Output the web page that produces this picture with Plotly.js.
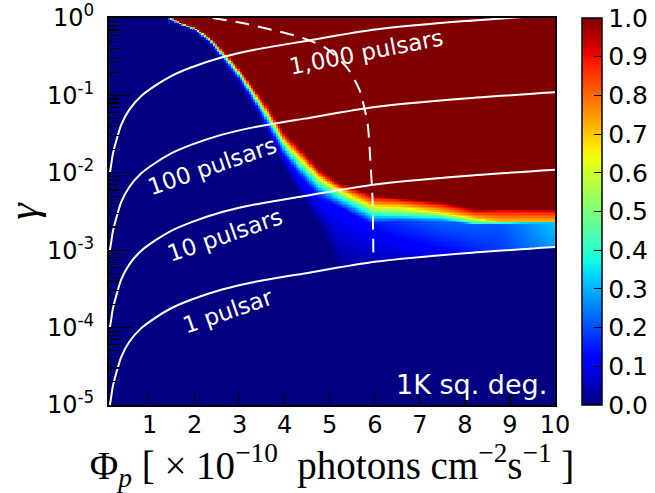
<!DOCTYPE html>
<html>
<head>
<meta charset="utf-8">
<script src="https://cdn.plot.ly/plotly-3.0.1.min.js"></script>
<style>html,body{margin:0;padding:0;background:#fff;}#chart{width:655px;height:493px;}</style>
</head>
<body>
<div id="chart"></div>
<script>
// ---------- data ----------
// Detection-probability map: per flux column, log10(gamma) where the probability
// reaches 1.0, 0.9, 0.7, 0.4, then the low plateau (value platTop at lgLow,
// platBot at floorLg) and 0 below floorLg.
const colPhi  = [1.30, 1.40, 1.66, 2.00, 2.33, 2.66, 3.00, 3.33, 3.66, 4.00, 4.33, 4.78, 5.22, 5.95, 6.55, 7.44, 8.20, 8.80, 10.00];
const lgP100  = [0.30, 0.06, -0.05, -0.12, -0.24, -0.43, -0.65, -0.91, -1.16, -1.48, -1.66, -1.95, -2.13, -2.29, -2.33, -2.37, -2.47, -2.48, -2.48];
const lgP90   = [0.28, 0.047, -0.056, -0.128, -0.252, -0.451, -0.676, -0.94, -1.21, -1.53, -1.72, -2.00, -2.17, -2.32, -2.35, -2.41, -2.50, -2.49, -2.495];
const lgP70   = [0.25, 0.028, -0.064, -0.138, -0.268, -0.479, -0.71, -0.985, -1.27, -1.60, -1.79, -2.06, -2.22, -2.42, -2.43, -2.50, -2.58, -2.64, -2.64];
const lgP40   = [0.20, 0.01, -0.072, -0.148, -0.284, -0.507, -0.744, -1.03, -1.33, -1.67, -1.90, -2.16, -2.31, -2.53, -2.55, -2.57, -2.655, -2.65, -2.645];
const lgLow   = [0.17, -0.01, -0.08, -0.16, -0.305, -0.545, -0.79, -1.09, -1.42, -1.78, -2.02, -2.30, -2.45, -2.66, -2.62, -2.63, -2.665, -2.655, -2.65];
const platTop = [0.15, 0.15, 0.15, 0.15, 0.15, 0.15, 0.15, 0.15, 0.15, 0.15, 0.15, 0.15, 0.12, 0.14, 0.18, 0.22, 0.22, 0.21, 0.32];
const floorLg = [0.15, -0.04, -0.10, -0.19, -0.35, -0.61, -0.87, -1.18, -1.55, -1.95, -2.30, -2.70, -3.21, -3.15, -3.11, -3.08, -3.03, -3.00, -2.95];
const platBot = [0, 0, 0, 0, 0, 0, 0, 0, 0, 0, 0.0, 0.0, 0.02, 0.04, 0.06, 0.10, 0.15, 0.18, 0.28];

// "1 pulsar" curve (log10 gamma vs flux); other curves scale with pulsar count
const curvePhi = [0.12, 0.15, 0.185, 0.26, 0.37, 0.555, 0.81, 1.11, 1.48, 1.92, 2.59, 3.33, 4.44, 6.0, 8.0, 10.0];
const curveLg  = [-5.0, -4.89, -4.76, -4.59, -4.38, -4.18, -4.01, -3.88, -3.75, -3.64, -3.51, -3.41, -3.30, -3.15, -3.04, -2.96];
const pulsarCounts = [1, 10, 100, 1000];
const pulsarLabels = ['1 pulsar', '10 pulsars', '100 pulsars', '1,000 pulsars'];

// dashed curve
const dashPhi = [2.40, 3.06, 3.73, 4.33, 4.88, 5.39, 5.66, 5.84, 5.90, 5.95, 5.97];
const dashLg  = [0.00, -0.065, -0.155, -0.245, -0.375, -0.646, -0.93, -1.36, -1.83, -2.35, -3.15];

const xTicks = [1, 2, 3, 4, 5, 6, 7, 8, 9, 10];
const yTickExp = [-5, -4, -3, -2, -1, 0];
const cbTicks = [0, 0.1, 0.2, 0.3, 0.4, 0.5, 0.6, 0.7, 0.8, 0.9, 1.0];

// ---------- build the heatmap table ----------
function interp(xs, ys, x) {
  if (x <= xs[0]) return ys[0];
  if (x >= xs[xs.length - 1]) return ys[ys.length - 1];
  for (let i = 1; i < xs.length; i++) {
    if (x <= xs[i]) {
      const t = (x - xs[i - 1]) / (xs[i] - xs[i - 1]);
      return ys[i - 1] + t * (ys[i] - ys[i - 1]);
    }
  }
}
const nx = 198, x0 = 0.125, dx = 0.05;
const ny = 250, lg0 = -4.99, dlg = 0.02;
const yCenters = [];
for (let j = 0; j < ny; j++) yCenters.push(Math.pow(10, lg0 + j * dlg));
const z = [];
for (let j = 0; j < ny; j++) z.push(new Array(nx));
for (let i = 0; i < nx; i++) {
  const phi = x0 + i * dx;
  const f = interp(colPhi, floorLg, phi);
  const knots = [
    [interp(colPhi, lgP100, phi), 1.0],
    [interp(colPhi, lgP90, phi), 0.9],
    [interp(colPhi, lgP70, phi), 0.7],
    [interp(colPhi, lgP40, phi), 0.4],
    [interp(colPhi, lgLow, phi), interp(colPhi, platTop, phi)],
    [f, interp(colPhi, platBot, phi)]
  ];
  for (let j = 0; j < ny; j++) {
    const lg = lg0 + j * dlg;
    let p = 0;
    if (lg >= knots[0][0]) p = 1;
    else if (lg < f) p = 0;
    else {
      for (let k = 1; k < knots.length; k++) {
        if (lg >= knots[k][0]) {
          const span = knots[k - 1][0] - knots[k][0];
          const t = span > 0 ? (lg - knots[k][0]) / span : 1;
          p = knots[k][1] + t * (knots[k - 1][1] - knots[k][1]);
          break;
        }
      }
    }
    z[j][i] = p;
  }
}

const jet = [
  [0, 'rgb(0,0,128)'], [0.11, 'rgb(0,0,255)'], [0.125, 'rgb(0,0,255)'],
  [0.34, 'rgb(0,219,255)'], [0.35, 'rgb(0,230,247)'], [0.375, 'rgb(21,255,226)'],
  [0.64, 'rgb(239,255,8)'], [0.65, 'rgb(247,245,0)'], [0.66, 'rgb(255,236,0)'],
  [0.89, 'rgb(255,19,0)'], [0.91, 'rgb(232,0,0)'], [1, 'rgb(128,0,0)']
];

const traces = [{
  type: 'heatmap', x0: x0, dx: dx, y: yCenters, z: z,
  zmin: 0, zmax: 1, colorscale: jet, zsmooth: false, hoverinfo: 'skip',
  colorbar: {
    x: 1.0605, xanchor: 'left', xpad: 0, y: 0.5, yanchor: 'middle', ypad: 0,
    len: 1, lenmode: 'fraction', thickness: 20, thicknessmode: 'pixels',
    outlinecolor: '#000', outlinewidth: 1.5,
    tickmode: 'array', tickvals: cbTicks, ticktext: cbTicks.map(v => v.toFixed(1)),
    ticks: 'inside', ticklen: 8, tickcolor: '#000', tickwidth: 1,
    tickfont: {family: 'DejaVu Sans', size: 25, color: '#000'}
  }
}];

pulsarCounts.forEach(n => {
  traces.push({
    type: 'scatter', mode: 'lines', x: curvePhi, y: curveLg.map(v => Math.pow(10, v) * n),
    line: {color: '#fff', width: 2, shape: 'spline', smoothing: 0.6}, hoverinfo: 'skip', showlegend: false
  });
});
traces.push({
  type: 'scatter', mode: 'lines', x: dashPhi, y: dashLg.map(v => Math.pow(10, v)),
  line: {color: '#fff', width: 2, dash: '14px,9px', shape: 'spline', smoothing: 0.6}, hoverinfo: 'skip', showlegend: false
});

// pixel -> paper helpers for label placement
const px = v => (v - 109) / 446;
const py = v => (405 - v) / 387;
const labelPos = [[228, 311, -19], [225, 235, -19], [212, 166, -19], [366, 52, -11]];
const annotations = pulsarLabels.map((t, k) => ({
  text: t, xref: 'paper', yref: 'paper', x: px(labelPos[k][0]), y: py(labelPos[k][1]),
  xanchor: 'center', yanchor: 'middle', textangle: labelPos[k][2], showarrow: false,
  font: {family: 'DejaVu Sans', size: 23, color: '#fff'}
}));
annotations.push({
  text: '1K sq. deg.', xref: 'paper', yref: 'paper', x: px(549), y: py(384),
  xanchor: 'right', yanchor: 'middle', showarrow: false,
  font: {family: 'DejaVu Sans', size: 27, color: '#fff'}
});

const minorY = [];
for (let e = -5; e < 0; e++) for (let m = 2; m <= 9; m++) minorY.push(m * Math.pow(10, e));

const layout = {
  width: 655, height: 493,
  margin: {l: 109, r: 100, t: 18, b: 88, autoexpand: false},
  paper_bgcolor: '#fff', plot_bgcolor: '#fff',
  showlegend: false,
  xaxis: {
    range: [0.1, 10], tickmode: 'array', tickvals: xTicks, ticktext: xTicks.map(String),
    ticks: 'inside', ticklen: 11, tickwidth: 1.2, tickcolor: '#000',
    showline: true, mirror: true, linecolor: '#000', linewidth: 2,
    showgrid: false, zeroline: false, ticklabelstandoff: -3,
    tickfont: {family: 'DejaVu Sans', size: 24, color: '#000'},
    title: {text: '\u00a0\u00a0\u00a0\u00a0Φ<sub><i>p</i></sub> [ × 10<sup>−10</sup>  photons cm<sup>−2</sup>s<sup>−1</sup> ]',
            font: {family: 'Liberation Serif', size: 39, color: '#000'}, standoff: 6}
  },
  yaxis: {
    type: 'log', range: [-5, 0], tickmode: 'array',
    tickvals: yTickExp.map(e => Math.pow(10, e)),
    ticktext: yTickExp.map(e => '10<sup>' + e + '</sup>'),
    ticks: 'inside', ticklen: 22, tickwidth: 1.2, tickcolor: '#000',
    minor: {tickmode: 'array', tickvals: minorY, ticks: 'inside', ticklen: 10, tickcolor: '#000', tickwidth: 1.2, showgrid: false},
    showline: true, mirror: true, linecolor: '#000', linewidth: 2,
    showgrid: false, zeroline: false, ticklabelstandoff: 8,
    tickfont: {family: 'DejaVu Sans', size: 24, color: '#000'},
    title: {text: '<i>γ</i>', font: {family: 'Liberation Serif', size: 42, color: '#000'}, standoff: 4}
  },
  annotations: annotations
};

Plotly.newPlot('chart', traces, layout, {staticPlot: true, displayModeBar: false});
</script>
</body>
</html>
